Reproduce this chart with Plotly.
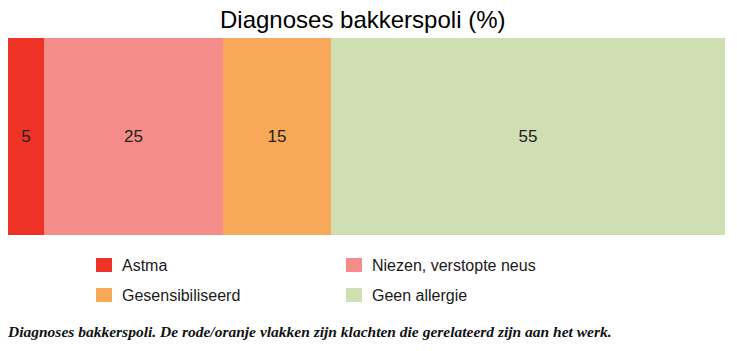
import plotly.graph_objects as go

categories = ["Astma", "Niezen, verstopte neus", "Gesensibiliseerd", "Geen allergie"]
values = [5, 25, 15, 55]
colors = ["#EE3326", "#F48D89", "#F7A859", "#D0DFB1"]
title = "Diagnoses bakkerspoli (%)"
caption = "Diagnoses bakkerspoli. De rode/oranje vlakken zijn klachten die gerelateerd zijn aan het werk."

W, H = 737, 351
ML, MR, MT, MB = 8, 12, 38, 116
PW, PH = W - ML - MR, H - MT - MB

def px(x):
    return (x - ML) / PW

def py(y):
    return (H - MB - y) / PH

fig = go.Figure()
for cat, val, col in zip(categories, values, colors):
    fig.add_trace(go.Bar(
        x=[val], y=["bar"], orientation="h", name=cat,
        marker=dict(color=col, line=dict(width=0)),
        text=[str(val)], textposition="inside", insidetextanchor="middle",
        textfont=dict(family="Liberation Sans, Arial, sans-serif", size=17, color="#222222"),
        constraintext="none", showlegend=False, hoverinfo="skip",
    ))

# legend drawn as two columns
col_x = [96, 346]
row_y = [265, 295]
shapes = []
annotations = []
for i, (cat, col) in enumerate(zip(categories, colors)):
    cx = col_x[i % 2]
    cy = row_y[i // 2]
    shapes.append(dict(type="rect", xref="paper", yref="paper",
                       x0=px(cx), x1=px(cx + 16), y0=py(cy - 7), y1=py(cy + 7),
                       fillcolor=col, line=dict(width=0)))
    annotations.append(dict(text=cat, xref="paper", yref="paper",
                            x=px(cx + 24), y=py(cy), xanchor="left", yanchor="middle",
                            showarrow=False,
                            font=dict(family="Liberation Sans, Arial, sans-serif", size=16, color="#1a1a1a")))

annotations.append(dict(text=title, xref="paper", yref="paper",
                        x=px(362), y=py(20), xanchor="center", yanchor="middle", showarrow=False,
                        font=dict(family="Liberation Sans, Arial, sans-serif", size=24, color="#000000")))
annotations.append(dict(text=caption, xref="paper", yref="paper",
                        x=px(5), y=py(331), xanchor="left", yanchor="middle", showarrow=False,
                        font=dict(family="Liberation Serif, Times New Roman, serif", size=15.5,
                                  color="#111111", style="italic", weight="bold")))

fig.update_layout(
    width=W, height=H,
    margin=dict(l=ML, r=MR, t=MT, b=MB, pad=0),
    barmode="stack", bargap=0,
    paper_bgcolor="white", plot_bgcolor="white",
    xaxis=dict(range=[0, 100], visible=False, fixedrange=True),
    yaxis=dict(visible=False, fixedrange=True),
    shapes=shapes, annotations=annotations,
)
fig.write_html("out.html", config={"displayModeBar": False})
